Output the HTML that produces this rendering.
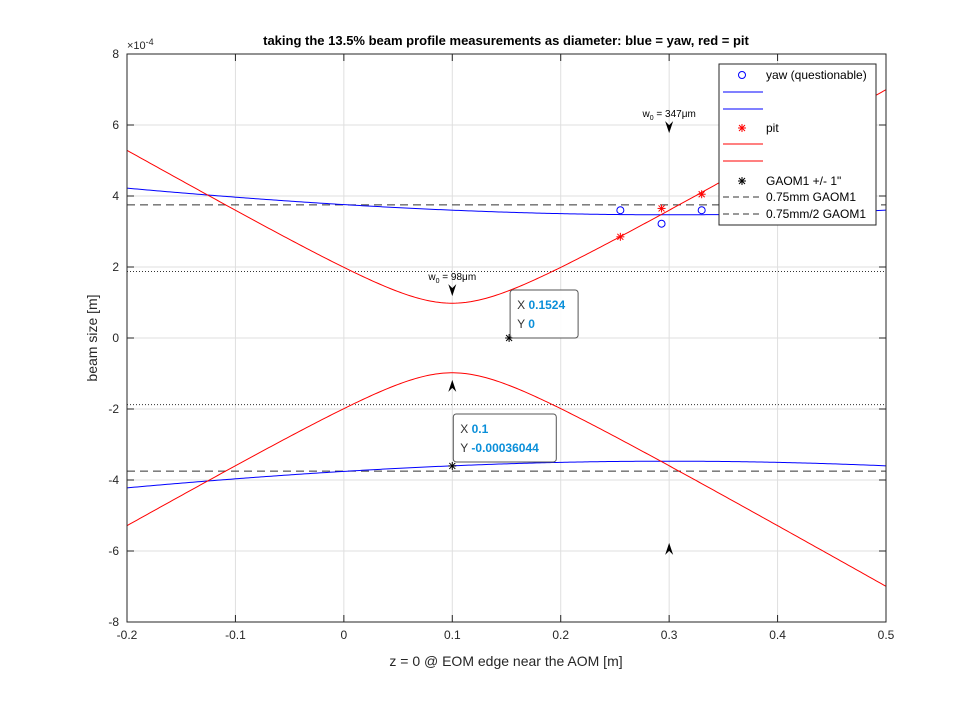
<!DOCTYPE html>
<html><head><meta charset="utf-8"><style>
body{margin:0;background:#fff;}
svg text{font-family:"Liberation Sans",sans-serif;}
</style></head><body>
<svg id="chart" width="980" height="701" viewBox="0 0 980 701" xmlns="http://www.w3.org/2000/svg">
<rect width="980" height="701" fill="#fff"/>
<g id="grid"></g>
<g id="plot"></g>
<rect x="127" y="54" width="759" height="568" fill="none" stroke="#262626" stroke-width="1"/>
<g id="ticks"></g>
<text x="506" y="45" text-anchor="middle" font-size="13" font-weight="bold" fill="#000">taking the 13.5% beam profile measurements as diameter: blue = yaw, red = pit</text>
<text x="127" y="49" font-size="11" fill="#262626">×10<tspan dy="-4" font-size="9">-4</tspan></text>
<text x="506" y="666" text-anchor="middle" font-size="14" fill="#262626">z = 0 @ EOM edge near the AOM [m]</text>
<text transform="translate(97,338) rotate(-90)" text-anchor="middle" font-size="14" fill="#262626">beam size [m]</text>
<g id="legend">
<rect x="719" y="64" width="157" height="161" fill="#fff" stroke="#262626"/>
<circle cx="742" cy="75" r="3.5" fill="none" stroke="#0000ff"/>
<text x="766" y="79" font-size="12" fill="#000">yaw (questionable)</text>
<line x1="723" y1="92" x2="763" y2="92" stroke="#0000ff"/>
<line x1="723" y1="109" x2="763" y2="109" stroke="#0000ff"/>
<text x="766" y="132" font-size="12" fill="#000">pit</text>
<line x1="723" y1="144" x2="763" y2="144" stroke="#ff0000"/>
<line x1="723" y1="161" x2="763" y2="161" stroke="#ff0000"/>
<text x="766" y="185" font-size="12" fill="#000">GAOM1 +/- 1"</text>
<line x1="723" y1="197" x2="763" y2="197" stroke="#333" stroke-dasharray="6,4"/>
<text x="766" y="201" font-size="12" fill="#000">0.75mm GAOM1</text>
<line x1="723" y1="214" x2="763" y2="214" stroke="#333" stroke-dasharray="6,4"/>
<text x="766" y="218" font-size="12" fill="#000">0.75mm/2 GAOM1</text>
</g>
<g id="tips"></g>
</svg>
<script>
const xTicks=[-0.2,-0.1,0,0.1,0.2,0.3,0.4,0.5];
const xTickLabels=["-0.2","-0.1","0","0.1","0.2","0.3","0.4","0.5"];
const yTicks=[-8,-6,-4,-2,0,2,4,6,8];
const yTickLabels=["-8","-6","-4","-2","0","2","4","6","8"];
// Gaussian fit parameters: [w0 (1e-4 m), z0 (m), zR (m)]
const yawFit=[3.47,0.3,0.722];
const pitFit=[0.98,0.1,0.0566];
const yawZ=[0.255,0.293,0.33];
const yawW=[3.6,3.22,3.6];
const pitZ=[0.255,0.293,0.33];
const pitW=[2.85,3.65,4.05];
const gaomZ=[0.1524,0.1];
const gaomW=[0,-3.6044];
const refLines=[3.75,-3.75];
const halfLines=[1.875,-1.875];
const waistZ=[0.1,0.3];
const waistW=[1.18,5.77];
const waistLabels=["98","347"];
const NS="http://www.w3.org/2000/svg";
const X0=-0.2,X1=0.5,Y0=-8,Y1=8,L=127,R=886,T=54,B=622;
const sx=v=>L+(v-X0)/(X1-X0)*(R-L);
const sy=v=>B-(v-Y0)/(Y1-Y0)*(B-T);
function mk(tag,attrs,parent){const e=document.createElementNS(NS,tag);for(const k in attrs)e.setAttribute(k,attrs[k]);parent.appendChild(e);return e;}
const grid=document.getElementById('grid'),plot=document.getElementById('plot'),ticks=document.getElementById('ticks'),tips=document.getElementById('tips'),legend=document.getElementById('legend');
xTicks.forEach((t,i)=>{
 let g=mk('line',{x1:sx(t),x2:sx(t),y1:T,y2:B,stroke:'#dfdfdf'},grid);
 
 mk('line',{x1:sx(t),x2:sx(t),y1:B,y2:B-7,stroke:'#262626'},ticks);
 mk('line',{x1:sx(t),x2:sx(t),y1:T,y2:T+7,stroke:'#262626'},ticks);
 let tx=mk('text',{x:sx(t),y:B+17,'text-anchor':'middle','font-size':12,fill:'#262626'},ticks);tx.textContent=xTickLabels[i];
 
});
yTicks.forEach((t,i)=>{
 let g=mk('line',{x1:L,x2:R,y1:sy(t),y2:sy(t),stroke:'#dfdfdf'},grid);
 
 mk('line',{x1:L,x2:L+7,y1:sy(t),y2:sy(t),stroke:'#262626'},ticks);
 mk('line',{x1:R,x2:R-7,y1:sy(t),y2:sy(t),stroke:'#262626'},ticks);
 let tx=mk('text',{x:L-8,y:sy(t)+4,'text-anchor':'end','font-size':12,fill:'#262626'},ticks);tx.textContent=yTickLabels[i];
 
});
refLines.forEach(v=>{let l=mk('line',{x1:L,x2:R,y1:sy(v),y2:sy(v),stroke:'#333','stroke-dasharray':'8,5'},plot);
 });
halfLines.forEach(v=>{let l=mk('line',{x1:L,x2:R,y1:sy(v),y2:sy(v),stroke:'#333','stroke-dasharray':'1,2'},plot);
 });
function beam(p,sign,color,name){
 let d='';for(let i=0;i<=300;i++){const z=X0+(X1-X0)*i/300;const w=p[0]*Math.sqrt(1+((z-p[1])/p[2])**2)*sign;d+=(i?'L':'M')+sx(z).toFixed(2)+','+sy(w).toFixed(2);}
 let e=mk('path',{d:d,fill:'none',stroke:color,'stroke-width':1},plot);
 
}
beam(yawFit,1,'#0000ff','yaw-fit-upper');beam(yawFit,-1,'#0000ff','yaw-fit-lower');
beam(pitFit,1,'#ff0000','pit-fit-upper');beam(pitFit,-1,'#ff0000','pit-fit-lower');
yawZ.forEach((z,i)=>{let c=mk('circle',{cx:sx(z),cy:sy(yawW[i]),r:3.5,fill:'none',stroke:'#0000ff'},plot);
 });
function star(x,y,color,name,parent){let g=mk('g',{stroke:color,'stroke-width':1},parent||plot);
 
 mk('line',{x1:x-4,x2:x+4,y1:y,y2:y},g);mk('line',{x1:x,x2:x,y1:y-4,y2:y+4},g);
 mk('line',{x1:x-3,x2:x+3,y1:y-3,y2:y+3},g);mk('line',{x1:x-3,x2:x+3,y1:y+3,y2:y-3},g);}
star(742,128,'#ff0000','legend-pit-marker',legend);
star(742,181,'#000','legend-gaom1-marker',legend);
pitZ.forEach((z,i)=>star(sx(z),sy(pitW[i]),'#ff0000','pit-point'));
gaomZ.forEach((z,i)=>star(sx(z),sy(gaomW[i]),'#000','gaom1-point'));
waistZ.forEach((z,i)=>{
 [1,-1].forEach(s=>{const x=sx(z),y=sy(waistW[i]*s);const dir=s;
  let a=mk('path',{d:`M${x},${y} L${x-4},${y-12*dir} L${x},${y-8*dir} L${x+4},${y-12*dir} Z`,fill:'#000'},plot);
  
 });
 let t=mk('text',{x:sx(z),y:sy(waistW[i])-16,'text-anchor':'middle','font-size':10,fill:'#000'},plot);
 t.innerHTML='w<tspan dy="3" font-size="7">0</tspan><tspan dy="-3"> = '+waistLabels[i]+'μm</tspan>';
 
});
function tip(z,w,xs,ys,bx,by,bw){
 let g=mk('g',{},tips);
 mk('rect',{x:bx,y:by,width:bw,height:48,rx:3,fill:'#fff','fill-opacity':0.9,stroke:'#555'},g);
 let t1=mk('text',{x:bx+7,y:by+19,'font-size':12,fill:'#333'},g);t1.innerHTML='X <tspan fill="#0a8fd9" font-weight="bold">'+xs+'</tspan>';
 let t2=mk('text',{x:bx+7,y:by+38,'font-size':12,fill:'#333'},g);t2.innerHTML='Y <tspan fill="#0a8fd9" font-weight="bold">'+ys+'</tspan>';
}
tip(gaomZ[0],gaomW[0],'0.1524','0',sx(gaomZ[0])+1,sy(gaomW[0])-48,68);
tip(gaomZ[1],gaomW[1],'0.1','-0.00036044',sx(gaomZ[1])+1,sy(gaomW[1])-52,103);
</script>
</body></html>
